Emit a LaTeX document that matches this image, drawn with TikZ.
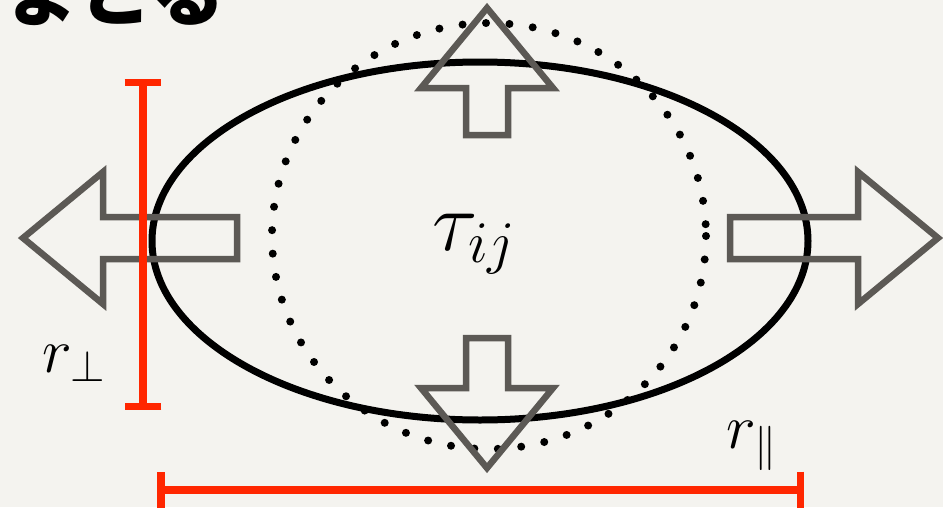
\RequirePackage{fix-cm}
\documentclass[tikz,border=0pt]{standalone}
\usepackage{fontspec}
\newfontfamily\cjk{Noto Sans CJK JP}
\usepackage{tikz}
\usetikzlibrary{arrows.meta}
\definecolor{paper}{RGB}{244,243,239}
\definecolor{barred}{RGB}{255,38,0}
\definecolor{arrowgray}{RGB}{92,89,85}

\begin{document}
\begin{tikzpicture}[x=0.02cm, y=-0.02cm, every node/.style={inner sep=0pt}, outline/.style={line width=0.14cm}, dots/.style={line width=0.16cm,line cap=round,dash pattern=on 0pt off 0.47cm}, push/.style={draw=arrowgray,line width=0.13cm,line join=miter}, bar/.style={draw=barred,line width=0.15cm,{Bar[width=0.74cm]}-{Bar[width=0.74cm]}}, pics/blockarrow/.style={code={\draw[push] (0,0) -- (-80,66) -- (-80,21) -- (-#1,21) -- (-#1,-21) -- (-80,-21) -- (-80,-66) -- cycle;}}]
\path[use as bounding box, fill=paper] (0,0) rectangle (943,507);
\node[anchor=base west, font=\cjk\bfseries\fontsize{42}{42}\selectfont] (title) at (4,20) {まとる};
% strain ellipse and unstrained circle
\draw[dots] (489,236) ellipse [x radius=217, y radius=213];
\draw[outline] (480,241) ellipse [x radius=328, y radius=179];
\node[anchor=base west, font=\fontsize{48}{48}\selectfont] (tau) at (432,250) {$\tau_{ij}$};
% stretching / squeezing arrows
\pic[rotate=90] (up) at (487,8) {blockarrow=127};
\pic[rotate=-90] (down) at (487,468) {blockarrow=130};
\pic[rotate=180] (left) at (23,238) {blockarrow=214};
\pic (right) at (938,238) {blockarrow=208};
% lengths
\coordinate (perptop) at (143,79); \coordinate (perpbot) at (143,410);
\coordinate (parleft) at (157,490); \coordinate (parright) at (804,490);
\draw[bar] (perptop) -- (perpbot);
\draw[bar] (parleft) -- (parright);
\node[anchor=base west, font=\fontsize{36}{36}\selectfont] (rperp) at (42,372) {$r_\perp$};
\node[anchor=base west, font=\fontsize{36}{36}\selectfont] (rpar) at (726,448) {$r_\parallel$};
\end{tikzpicture}
\end{document}
